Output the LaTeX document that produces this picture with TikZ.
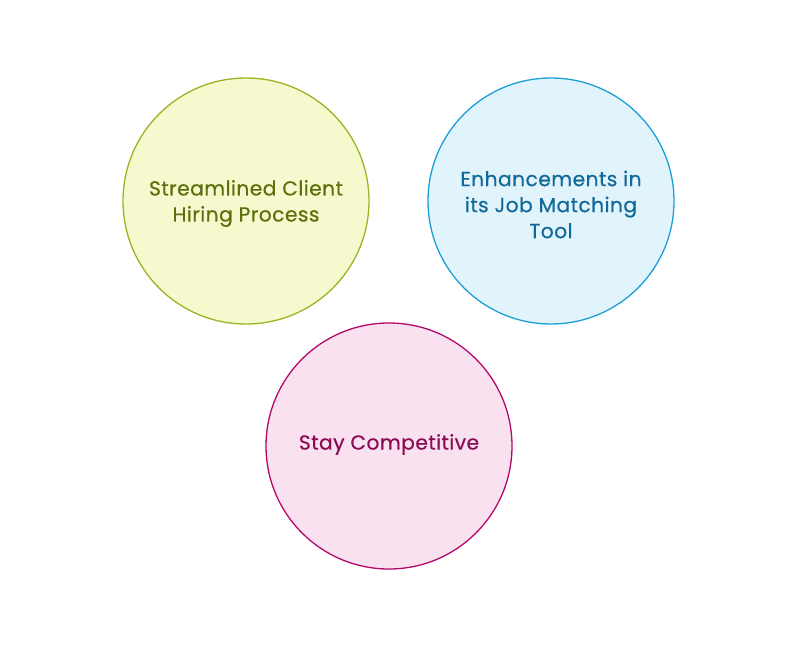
\documentclass[tikz,border=0pt]{standalone}
\usepackage{fontspec}
\setmainfont{Poppins}[FakeBold=0.4,LetterSpace=2]
\definecolor{gfill}{HTML}{F5F9CD}
\definecolor{gline}{HTML}{9DB323}
\definecolor{gtext}{HTML}{5E6E0B}
\definecolor{bfill}{HTML}{E1F4FB}
\definecolor{bline}{HTML}{1B9FD9}
\definecolor{btext}{HTML}{10699A}
\definecolor{pfill}{HTML}{FAE1F0}
\definecolor{pline}{HTML}{B4096B}
\definecolor{ptext}{HTML}{8C0B55}
\tikzset{
  bubble/.style={circle, minimum size=246pt, inner sep=0pt, line width=1.3pt},
  label text/.style={align=center, inner sep=0pt, font=\fontsize{20.3}{26}\selectfont},
}
\begin{document}
\begin{tikzpicture}[x=1pt,y=-1pt]
\useasboundingbox (0,0) rectangle (792,648);
\node[bubble, draw=gline, fill=gfill] (a) at (246,201) {};
\node[bubble, draw=bline, fill=bfill] (b) at (551,201) {};
\node[bubble, draw=pline, fill=pfill] (c) at (389,446) {};
\node[label text, text=gtext, yshift=-2.5pt] (at) at (a.center) {Streamlined Client\\Hiring Process};
\node[label text, text=btext, yshift=-3.5pt] (bt) at (b.center) {Enhancements in\\its Job Matching\\Tool};
\node[label text, text=ptext, yshift=1.5pt] (ct) at (c.center) {Stay Competitive};
\end{tikzpicture}
\end{document}
